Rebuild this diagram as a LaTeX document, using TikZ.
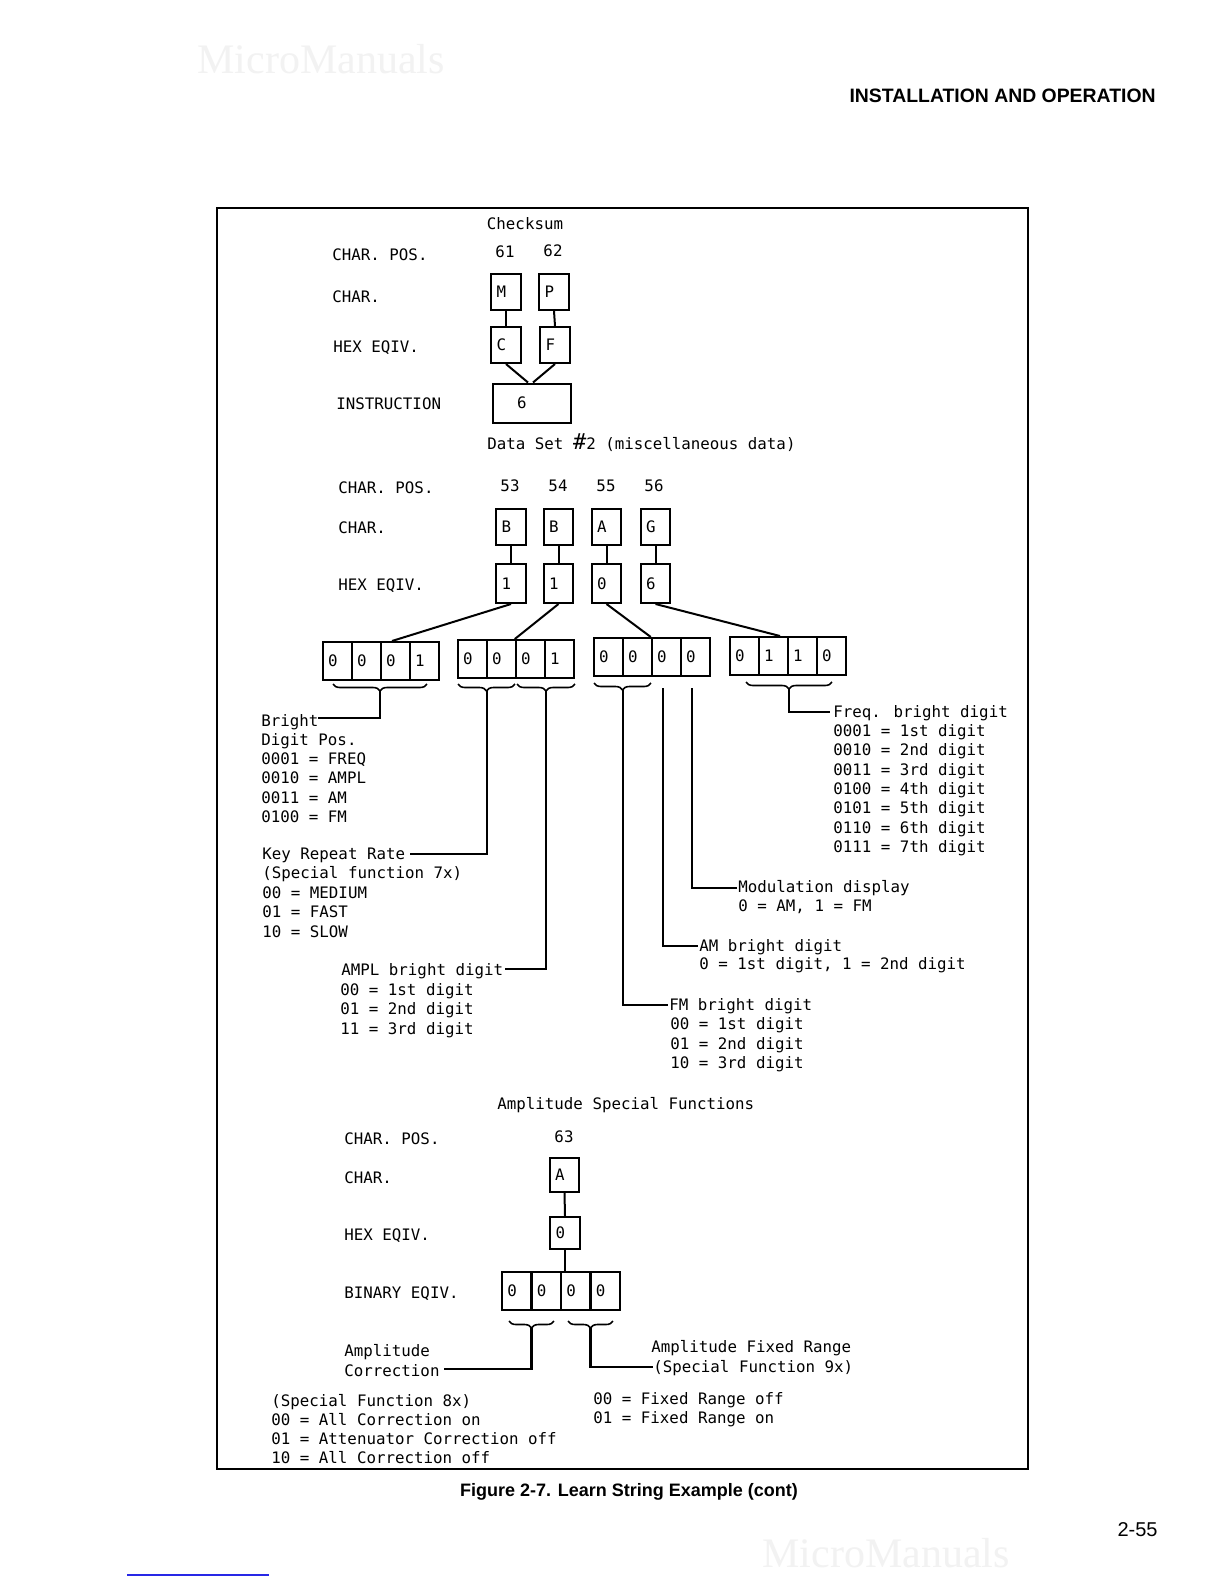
\documentclass[tikz,border=0pt]{standalone}
\usepackage{fontspec}
\setmainfont{Liberation Sans}
\newfontfamily\monof{DejaVu Sans Mono}
\newfontfamily\wmfont{Liberation Serif}
\usetikzlibrary{decorations.pathreplacing}
\definecolor{linkblue}{RGB}{40,40,230}
\tikzset{
  txt/.style={font=\monof\fontsize{7.9bp}{9.5bp}\selectfont, anchor=base west, inner sep=0},
  ctxt/.style={txt, anchor=base},
  bx/.style={draw, line width=1bp, inner xsep=2.6bp, inner ysep=0, text width=9.5bp, align=left,
    font=\monof\fontsize{7.9bp}{9.5bp}\selectfont, minimum height=#1},
  bx/.default=18bp,
  wire/.style={line width=1bp},
  lead/.style={line width=1.4bp},
  brc/.style={line width=0.8bp, decorate, decoration={brace, amplitude=3.5bp, mirror}},
  wm/.style={font=\wmfont\fontsize{21bp}{21bp}\selectfont, text=black!5, anchor=base west, inner sep=0},
}
\begin{document}
\begin{tikzpicture}[x=0.5bp,y=-0.5bp]
\useasboundingbox (0,0) rectangle (1224,1584);
\fill[white] (0,0) rectangle (1224,1584);

% faint watermarks (those clear of the figure text)
\node[wm] (wm1) at (197,73) {MicroManuals};
\node[wm] (wm4) at (762,1567) {MicroManuals};

% page header, caption, page number
\node[font=\bfseries\fontsize{9.7bp}{11bp}\selectfont, anchor=base east, inner sep=0] (hdr) at (1156,102) {INSTALLATION AND OPERATION};
\node[font=\bfseries\fontsize{9bp}{11bp}\selectfont, anchor=base, inner sep=0] (cap) at (629,1496) {Figure 2-7. Learn String Example (cont)};
\node[font=\fontsize{10bp}{12bp}\selectfont, anchor=base east, inner sep=0] (pg) at (1158,1536) {2-55};
\draw[linkblue, line width=0.8bp] (127,1575) -- (269,1575);

% frame
\draw[line width=1.2bp] (217,208) rectangle (1028,1469);

% ---------------- Checksum section
\node[ctxt] (cks) at (525,229) {Checksum};
\node[txt] (cp1) at (332,260) {CHAR. POS.};
\node[ctxt] (n61) at (505,257) {61};
\node[ctxt] (n62) at (553,256) {62};
\node[txt] (ch1) at (332,302) {CHAR.};
\node[txt] (hx1) at (333,352) {HEX EQIV.};
\node[txt] (ins1) at (336,409) {INSTRUCTION};

\node[bx] (m) at (506,292) {M};
\node[bx] (p) at (554,292) {P};
\node[bx] (c) at (506,345) {C};
\node[bx] (f) at (555,345) {F};
\node[draw, line width=1bp, inner xsep=12bp, inner ysep=0, text width=15bp, align=left,
  font=\monof\fontsize{7.9bp}{9.5bp}\selectfont, minimum height=19.5bp] (ins) at (532,403) {6};
\draw[wire] (m.south) -- (c.north);
\draw[wire] (p.south) -- (f.north);
\draw[wire] (c.south) -- ([xshift=-2bp]ins.north);
\draw[wire] (f.south) -- ([xshift=0.5bp]ins.north);

% ---------------- Data set #2 section
\node[txt] (ds) at (487,449) {Data Set {\fontsize{11bp}{11bp}\selectfont\#}2 (miscellaneous data)};
\node[txt] (cp2) at (338,493) {CHAR. POS.};
\node[ctxt] (n53) at (510,491) {53};
\node[ctxt] (n54) at (558,491) {54};
\node[ctxt] (n55) at (606,491) {55};
\node[ctxt] (n56) at (654,491) {56};
\node[txt] (ch2) at (338,533) {CHAR.};
\node[txt] (hx2) at (338,590) {HEX EQIV.};

\node[bx] (b1) at (511,526.5) {B};
\node[bx] (b2) at (558.5,526.5) {B};
\node[bx] (a1) at (606.5,526.5) {A};
\node[bx] (gg) at (655.5,526.5) {G};
\node[bx=19.5bp] (h1) at (511,583.5) {1};
\node[bx=19.5bp] (h2) at (558.5,583.5) {1};
\node[bx=19.5bp] (h3) at (606.5,583.5) {0};
\node[bx=19.5bp] (h4) at (655.5,583.5) {6};
\draw[wire] (b1.south) -- (h1.north);
\draw[wire] (b2.south) -- (h2.north);
\draw[wire] (a1.south) -- (h3.north);
\draw[wire] (gg.south) -- (h4.north);

% binary groups
\node[bx=19bp] (g1a) at (337.5,661) {0};
\node[bx=19bp] (g1b) at (366.5,661) {0};
\node[bx=19bp] (g1c) at (395.5,661) {0};
\node[bx=19bp] (g1d) at (424.5,661) {1};
\node[bx=19bp] (g2a) at (472.5,659) {0};
\node[bx=19bp] (g2b) at (501.5,659) {0};
\node[bx=19bp] (g2c) at (530.5,659) {0};
\node[bx=19bp] (g2d) at (559.5,659) {1};
\node[bx=19bp] (g3a) at (608.5,657) {0};
\node[bx=19bp] (g3b) at (637.5,657) {0};
\node[bx=19bp] (g3c) at (666.5,657) {0};
\node[bx=19bp] (g3d) at (695.5,657) {0};
\node[bx=19bp] (g4a) at (744.5,656) {0};
\node[bx=19bp] (g4b) at (773.5,656) {1};
\node[bx=19bp] (g4c) at (802.5,656) {1};
\node[bx=19bp] (g4d) at (831.5,656) {0};
\draw[wire] (h1.south) -- ([xshift=-1.75bp]g1c.north);
\draw[wire] (h2.south) -- (g2c.north west);
\draw[wire] (h3.south) -- (g3c.north west);
\draw[wire] (h4.south) -- ([xshift=3.25bp]g4b.north);

% braces
\draw[brc] (333,684) -- (427,684);
\draw[brc] (458,684) -- (515,684);
\draw[brc] (517,684) -- (575,684);
\draw[brc] (594,683) -- (651,683);
\draw[brc] (746,682) -- (832,682);

% leads
\coordinate (t1) at (380,691); \coordinate (e1) at (318,718);
\coordinate (t2) at (487,691); \coordinate (e2) at (410,854);
\coordinate (t3) at (546,691); \coordinate (e3) at (505,969);
\coordinate (t4) at (623,690); \coordinate (e4) at (668,1005);
\coordinate (t5) at (663,688); \coordinate (e5) at (698,946);
\coordinate (t6) at (692,688); \coordinate (e6) at (737,888);
\coordinate (t7) at (789,689); \coordinate (e7) at (830,712);
\draw[lead] (t1) |- (e1);
\draw[lead] (t2) |- (e2);
\draw[lead] (t3) |- (e3);
\draw[lead] (t4) |- (e4);
\draw[lead] (t5) |- (e5);
\draw[lead] (t6) |- (e6);
\draw[lead] (t7) |- (e7);

% labels
\node[txt] (l1) at (261,726) {Bright};
\node[txt] (l2) at (261,745) {Digit Pos.};
\node[txt] (l3) at (261,764) {0001 = FREQ};
\node[txt] (l4) at (261,783) {0010 = AMPL};
\node[txt] (l5) at (261,803) {0011 = AM};
\node[txt] (l6) at (261,822) {0100 = FM};

\node[txt] (k1) at (262,859) {Key Repeat Rate};
\node[txt] (k2) at (262,878) {(Special function 7x)};
\node[txt] (k3) at (262,898) {00 = MEDIUM};
\node[txt] (k4) at (262,917) {01 = FAST};
\node[txt] (k5) at (262,937) {10 = SLOW};

\node[txt] (a1l) at (341,975) {AMPL bright digit};
\node[txt] (a2l) at (340,995) {00 = 1st digit};
\node[txt] (a3l) at (340,1014) {01 = 2nd digit};
\node[txt] (a4l) at (340,1034) {11 = 3rd digit};

\node[txt] (fm1) at (669,1010) {FM bright digit};
\node[txt] (fm2) at (670,1029) {00 = 1st digit};
\node[txt] (fm3) at (670,1049) {01 = 2nd digit};
\node[txt] (fm4) at (670,1068) {10 = 3rd digit};

\node[txt] (am1) at (699,951) {AM bright digit};
\node[txt] (am2) at (699,969) {0 = 1st digit, 1 = 2nd digit};

\node[txt] (md1) at (738,892) {Modulation display};
\node[txt] (md2) at (738,911) {0 = AM, 1 = FM};

\node[txt] (fq0) at (833,717) {Freq. bright digit};
\node[txt] (fq1) at (833,736) {0001 = 1st digit};
\node[txt] (fq2) at (833,755) {0010 = 2nd digit};
\node[txt] (fq3) at (833,775) {0011 = 3rd digit};
\node[txt] (fq4) at (833,794) {0100 = 4th digit};
\node[txt] (fq5) at (833,813) {0101 = 5th digit};
\node[txt] (fq6) at (833,833) {0110 = 6th digit};
\node[txt] (fq7) at (833,852) {0111 = 7th digit};

% ---------------- Amplitude special functions
\node[txt] (asf) at (497,1109) {Amplitude Special Functions};
\node[txt] (cp3) at (344,1144) {CHAR. POS.};
\node[ctxt] (n63) at (564,1142) {63};
\node[txt] (ch3) at (344,1183) {CHAR.};
\node[txt] (hx3) at (344,1240) {HEX EQIV.};
\node[txt] (bn3) at (344,1298) {BINARY EQIV.};

\node[bx=17bp] (sa) at (564.5,1175) {A};
\node[bx=16bp] (sh) at (565,1233) {0};
\node[bx=19bp] (s1) at (516.75,1291) {0};
\node[bx=19bp] (s2) at (546.25,1291) {0};
\node[bx=19bp] (s3) at (575.75,1291) {0};
\node[bx=19bp] (s4) at (605.25,1291) {0};
\draw[wire] (sa.south) -- (sh.north);
\draw[wire] (sh.south) -- (sh.south |- s2.north);

\draw[brc] (509,1321) -- (554,1321);
\draw[brc] (568,1321) -- (613,1321);
\coordinate (u1) at (531.5,1328); \coordinate (v1) at (444,1369);
\coordinate (u2) at (590.5,1328); \coordinate (v2) at (653,1367);
\draw[lead] (u1) |- (v1);
\draw[lead] (u2) |- (v2);

\node[txt] (ac1) at (344,1356) {Amplitude};
\node[txt] (ac2) at (344,1376) {Correction};
\node[txt] (af1) at (651,1352) {Amplitude Fixed Range};
\node[txt] (af2) at (653,1372) {(Special Function 9x)};

\node[txt] (sf1) at (271,1406) {(Special Function 8x)};
\node[txt] (sf2) at (271,1425) {00 = All Correction on};
\node[txt] (sf3) at (271,1444) {01 = Attenuator Correction off};
\node[txt] (sf4) at (271,1463) {10 = All Correction off};

\node[txt] (fr1) at (593,1404) {00 = Fixed Range off};
\node[txt] (fr2) at (593,1423) {01 = Fixed Range on};
\end{tikzpicture}
\end{document}
